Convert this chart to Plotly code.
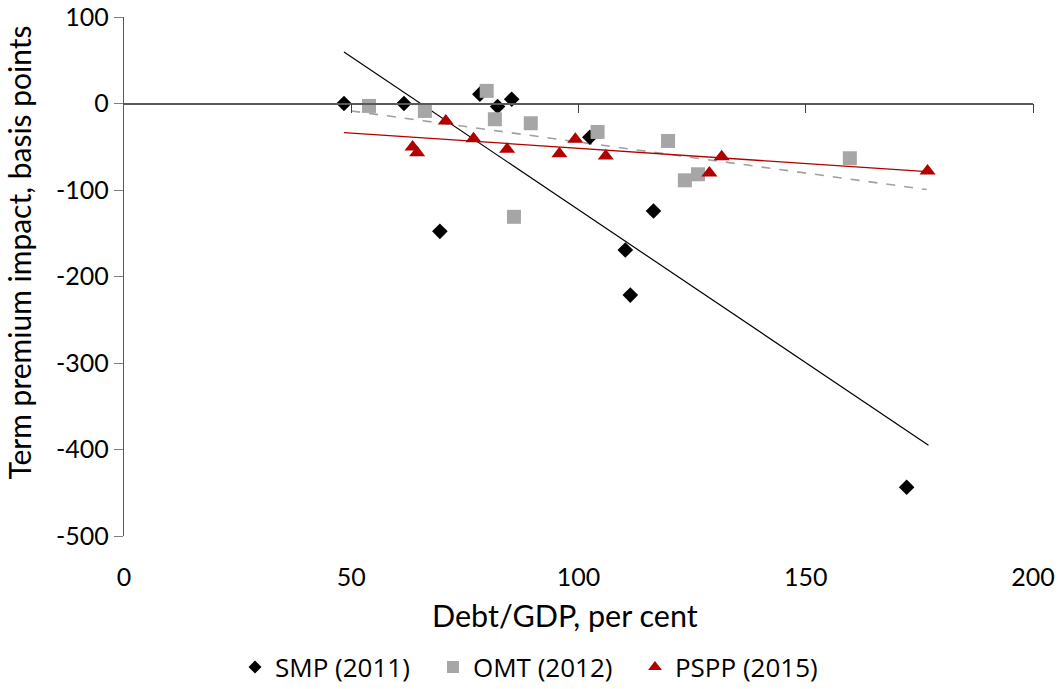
import plotly.graph_objects as go

# ---- data ----
smp_x = [48.4, 61.6, 78.3, 82.2, 85.3, 69.5, 102.5, 116.5, 110.3, 111.4, 172.2]
smp_y = [0, 0, 10.8, -3.5, 5.0, -147.8, -39, -124.3, -169.4, -221.5, -443.7]

omt_x = [53.9, 66.2, 79.8, 81.6, 89.5, 85.8, 104.2, 119.7, 123.4, 126.3, 159.7]
omt_y = [-2.8, -8.6, 14.6, -18.2, -22.8, -131, -32.9, -43.3, -88.8, -81.8, -63.3]

pspp_x = [70.8, 63.5, 64.5, 76.9, 84.3, 95.8, 99.3, 106.0, 131.5, 128.8, 176.8]
pspp_y = [-20.2, -50.3, -56.9, -40.7, -52.9, -58.0, -41.4, -60.7, -61.5, -80.4, -78.0]

# trendlines: [x_start, x_end], slope, intercept
smp_trend_x = [48.4, 177.0]
smp_slope, smp_icpt = -3.536, 230.8
omt_trend_x = [50.0, 176.6]
omt_slope, omt_icpt = -0.718, 27.3
pspp_trend_x = [48.4, 176.7]
pspp_slope, pspp_icpt = -0.352, -16.6

x_ticks = [0, 50, 100, 150, 200]
y_ticks = [100, 0, -100, -200, -300, -400, -500]

names = ["SMP (2011)", "OMT (2012)", "PSPP (2015)"]
colors = ["#000000", "#a6a6a6", "#b00000"]
symbols = ["diamond", "square", "triangle-up"]

x_title = "Debt/GDP, per cent"
y_title = "Term premium impact, basis points"

FONT = "Lato"

fig = go.Figure()

# trendlines
for tx, s, b, col, dash, w in [
    (smp_trend_x, smp_slope, smp_icpt, "#000000", "solid", 1.2),
    (omt_trend_x, omt_slope, omt_icpt, "#a0a0a0", "dash", 1.6),
    (pspp_trend_x, pspp_slope, pspp_icpt, "#b00000", "solid", 1.3),
]:
    fig.add_trace(go.Scatter(
        x=tx, y=[s * v + b for v in tx], mode="lines",
        line=dict(color=col, width=w, dash=dash),
        showlegend=False, hoverinfo="skip"))

# scatter series
for xs, ys, nm, col, sym, sz in [
    (smp_x, smp_y, names[0], colors[0], symbols[0], 12),
    (omt_x, omt_y, names[1], colors[1], symbols[1], 14),
    (pspp_x, pspp_y, names[2], colors[2], symbols[2], 14),
]:
    fig.add_trace(go.Scatter(
        x=xs, y=ys, mode="markers", name=nm,
        marker=dict(symbol=sym, size=sz, color=col, line=dict(width=0)),
        showlegend=False))

# legend-only entries with smaller symbols, one legend box each
legend_ids = ["legend", "legend2", "legend3"]
for nm, col, sym, sz, lg in zip(names, colors, symbols, [10, 12, 12], legend_ids):
    fig.add_trace(go.Scatter(
        x=[None], y=[None], mode="markers", name=nm, legend=lg,
        marker=dict(symbol=sym, size=sz, color=col, line=dict(width=0))))

# invisible trace on the zero-crossing axis
fig.add_trace(go.Scatter(x=[0, 200], y=[0, 0], xaxis="x2", mode="lines",
                         line=dict(width=0), showlegend=False, hoverinfo="skip"))


def legend_box(xpos):
    return dict(
        orientation="h", x=xpos, xanchor="left", xref="container",
        y=22 / 689, yanchor="middle", yref="container",
        font=dict(size=26, family="Open Sans"), itemwidth=30,
        bgcolor="rgba(0,0,0,0)")


fig.update_layout(
    width=1062, height=689,
    paper_bgcolor="white", plot_bgcolor="white",
    margin=dict(l=124, r=29, t=17, b=153),
    font=dict(family=FONT, size=24, color="#000000"),
    xaxis=dict(
        range=[0, 200], tickvals=x_ticks, ticktext=[str(v) for v in x_ticks],
        showgrid=False, zeroline=False, showline=False, ticks="",
        ticklabelstandoff=24, automargin=False, ticklabeloverflow="allow",
        tickfont=dict(size=25),
    ),
    xaxis2=dict(
        range=[0, 200], overlaying="x", anchor="free", position=5 / 6,
        tickvals=x_ticks[1:], showticklabels=False, showgrid=False, zeroline=False,
        showline=True, linecolor="#595959", linewidth=1.5, automargin=False,
        ticks="outside", ticklen=9, tickcolor="#404040", tickwidth=1.2,
    ),
    yaxis=dict(
        range=[-500, 100], tickvals=y_ticks, ticktext=[str(v) for v in y_ticks],
        showgrid=False, zeroline=False, showline=True, linecolor="#595959", linewidth=1.3,
        ticks="outside", ticklen=9, tickcolor="#808080", tickwidth=1.2,
        automargin=False, ticklabeloverflow="allow", tickfont=dict(size=25),
    ),
    legend=legend_box(0.2213),
    legend2=legend_box(0.4077),
    legend3=legend_box(0.5979),
    annotations=[
        dict(text=x_title, xref="paper", yref="paper", x=0.485, y=-0.152,
             xanchor="center", yanchor="middle", showarrow=False,
             font=dict(size=30.5, family=FONT)),
        dict(text=y_title, xref="paper", yref="paper", x=-0.115, y=0.547,
             xanchor="center", yanchor="middle", showarrow=False, textangle=-90,
             font=dict(size=30, family=FONT)),
    ],
)

fig.write_html("out.html", config={"displayModeBar": False},
               post_script="document.body.style.margin='0px';")
